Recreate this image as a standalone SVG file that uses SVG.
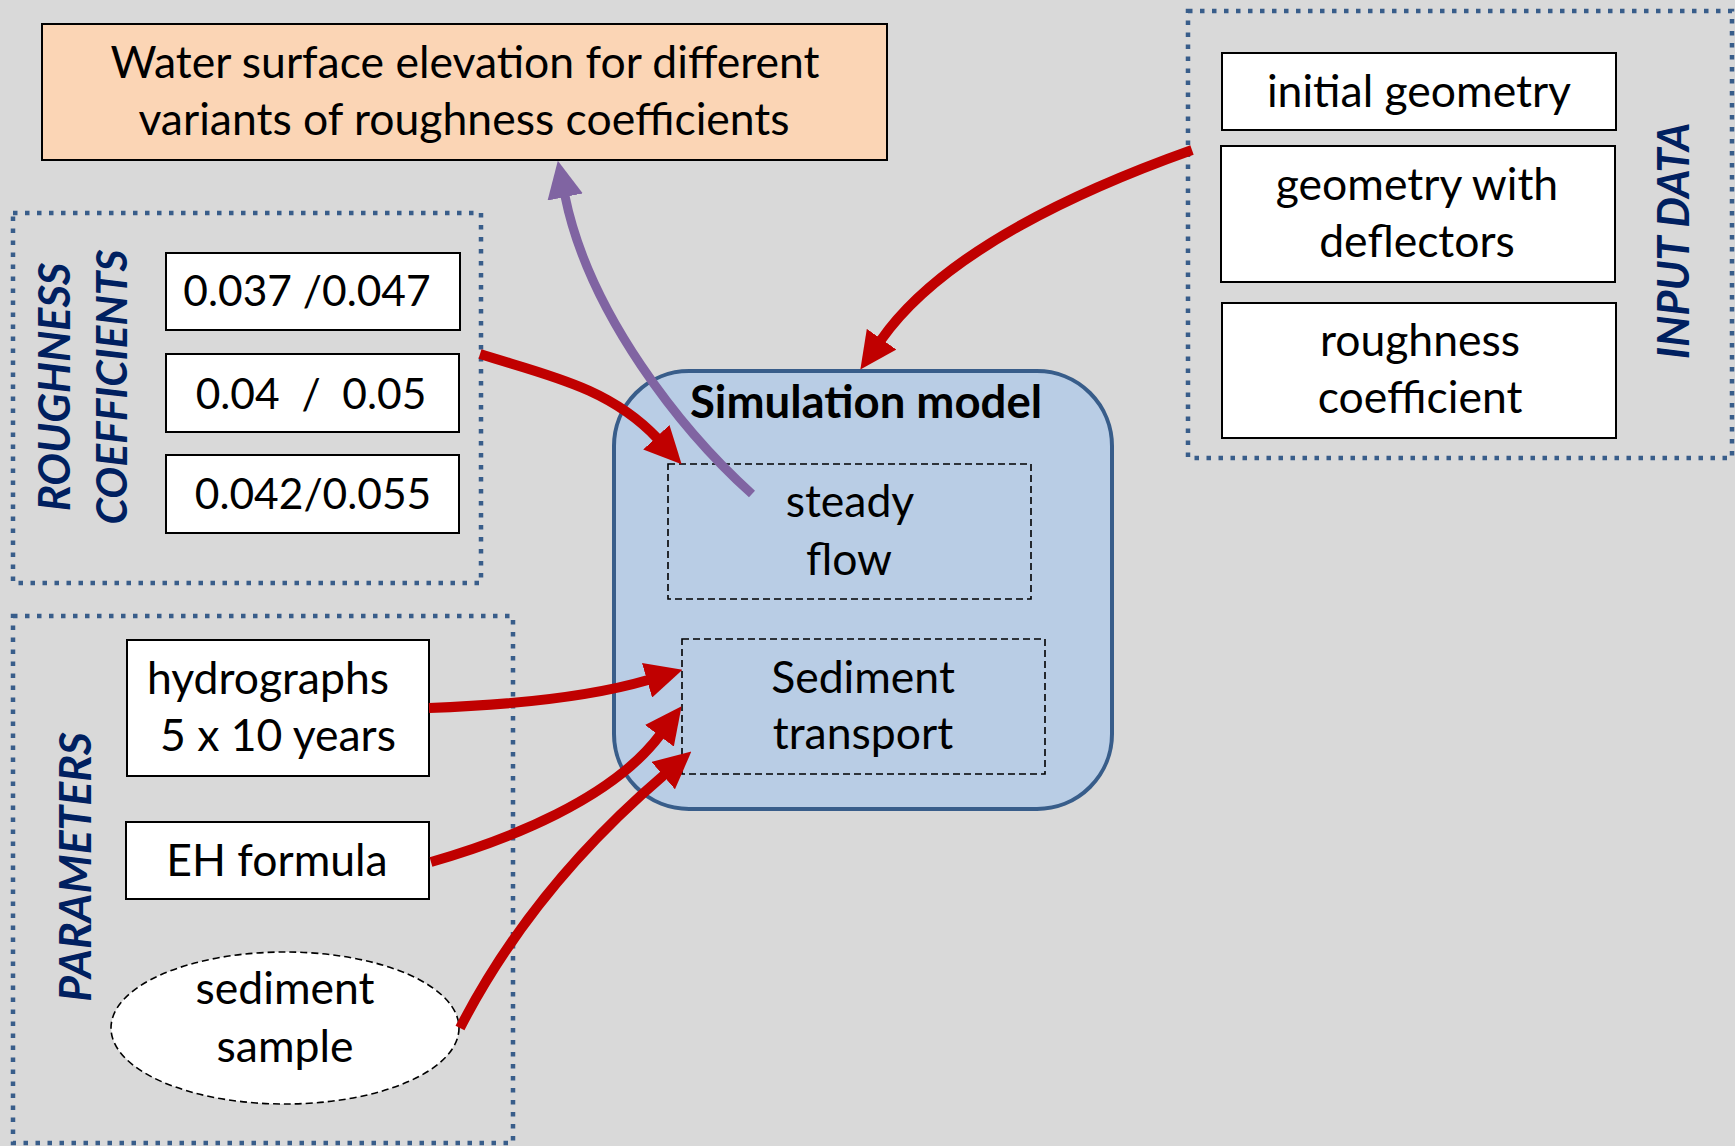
<svg xmlns="http://www.w3.org/2000/svg" width="1735" height="1146" viewBox="0 0 1735 1146">
<defs>
<style>
.t{font-family:Lato,"Open Sans","Liberation Sans",sans-serif;font-size:44.5px;fill:#000;text-anchor:middle}
.n{font-size:42.5px}
.b{font-weight:bold;font-size:45.5px}
.h{font-family:Lato,"Open Sans","Liberation Sans",sans-serif;font-size:43.5px;font-weight:bold;font-style:italic;fill:#002060;text-anchor:middle}
.box{fill:#fff;stroke:#000;stroke-width:2}
.grp{fill:none;stroke:#385d8a;stroke-width:4.5;stroke-dasharray:4.5 7.5}
.dash{fill:none;stroke:#000;stroke-width:1.6;stroke-dasharray:7 4}
.red{fill:none;stroke:#c00000;stroke-width:10;marker-end:url(#ar)}
.pur{fill:none;stroke:#8064a2;stroke-width:9;marker-end:url(#ap)}
</style>
<marker id="ar" markerUnits="userSpaceOnUse" markerWidth="37" markerHeight="36" viewBox="0 0 37 36" refX="1" refY="18" orient="auto"><path d="M0,0 L37,18 L0,36 z" fill="#c00000"/></marker>
<marker id="ap" markerUnits="userSpaceOnUse" markerWidth="37" markerHeight="36" viewBox="0 0 37 36" refX="1" refY="18" orient="auto"><path d="M0,0 L37,18 L0,36 z" fill="#8064a2"/></marker>
</defs>
<rect width="1735" height="1146" fill="#d9d9d9"/>

<g id="result">
<rect x="42" y="24" width="845" height="136" fill="#fbd5b5" stroke="#000" stroke-width="2"/>
<text class="t" x="465" y="78">Water surface elevation for different</text>
<text class="t" x="464" y="135">variants of roughness coefficients</text>
</g>

<g id="roughness-group">
<rect class="grp" x="13" y="213" width="468" height="370"/>
<text class="h" transform="translate(70,387) rotate(-90)">ROUGHNESS</text>
<text class="h" transform="translate(127,387) rotate(-90)" style="font-size:42.5px">COEFFICIENTS</text>
</g>
<g id="r1"><rect class="box" x="166" y="253" width="294" height="77"/><text class="t n" x="307" y="306">0.037 /0.047</text></g>
<g id="r2"><rect class="box" x="166" y="354" width="293" height="78"/><text class="t n" x="311" y="409" xml:space="preserve">0.04  /  0.05</text></g>
<g id="r3"><rect class="box" x="166" y="455" width="293" height="78"/><text class="t n" x="313" y="509">0.042/0.055</text></g>

<g id="parameters-group">
<rect class="grp" x="13" y="616" width="500" height="527"/>
<text class="h" transform="translate(91,867) rotate(-90)" style="font-size:44.5px">PARAMETERS</text>
</g>
<g id="hydrographs"><rect class="box" x="127" y="640" width="302" height="136"/>
<text class="t" x="268" y="694">hydrographs</text><text class="t" x="278" y="751">5 x 10 years</text></g>
<g id="eh"><rect class="box" x="126" y="822" width="303" height="77"/><text class="t" x="277" y="876">EH formula</text></g>
<g id="sample"><ellipse cx="285" cy="1028" rx="174" ry="76" fill="#fff" stroke="#000" stroke-width="1.6" stroke-dasharray="7 4"/>
<text class="t" x="285" y="1004">sediment</text><text class="t" x="285" y="1062">sample</text></g>

<g id="input-group">
<rect class="grp" x="1188" y="11" width="544" height="447"/>
<text class="h" transform="translate(1689,241) rotate(-90)">INPUT DATA</text>
</g>
<g id="i1"><rect class="box" x="1222" y="53" width="394" height="77"/><text class="t" x="1419" y="107">initial geometry</text></g>
<g id="i2"><rect class="box" x="1221" y="146" width="394" height="136"/><text class="t" x="1417" y="200">geometry with</text><text class="t" x="1417" y="257">deflectors</text></g>
<g id="i3"><rect class="box" x="1222" y="303" width="394" height="135"/><text class="t" x="1420" y="356">roughness</text><text class="t" x="1420" y="413">coefficient</text></g>

<g id="simulation">
<rect x="614" y="371" width="498" height="438" rx="75" ry="75" fill="#b9cde5" stroke="#385d8a" stroke-width="4"/>
<text class="t b" x="866" y="418">Simulation model</text>
</g>
<g id="steady"><rect class="dash" x="668" y="464" width="363" height="135"/>
<text class="t" x="850" y="517">steady</text><text class="t" x="849" y="575">flow</text></g>
<g id="transport"><rect class="dash" x="682" y="639" width="363" height="135"/>
<text class="t" x="863" y="693">Sediment</text><text class="t" x="863" y="749">transport</text></g>

<g id="connectors">
<path class="red" d="M1192,150 C1088,187 944,250 881,340"/>
<path class="red" d="M480,354 C546,375 609,387 657,438"/>
<path class="red" d="M429,708 C510,705 590,697 648,680"/>
<path class="red" d="M431,862 C508,840 612,799 660,735"/>
<path class="red" d="M460,1028 C515,921 588,840 664,775"/>
<path class="pur" d="M752,494 C682,431 589,314 565,196"/>
</g>
</svg>
